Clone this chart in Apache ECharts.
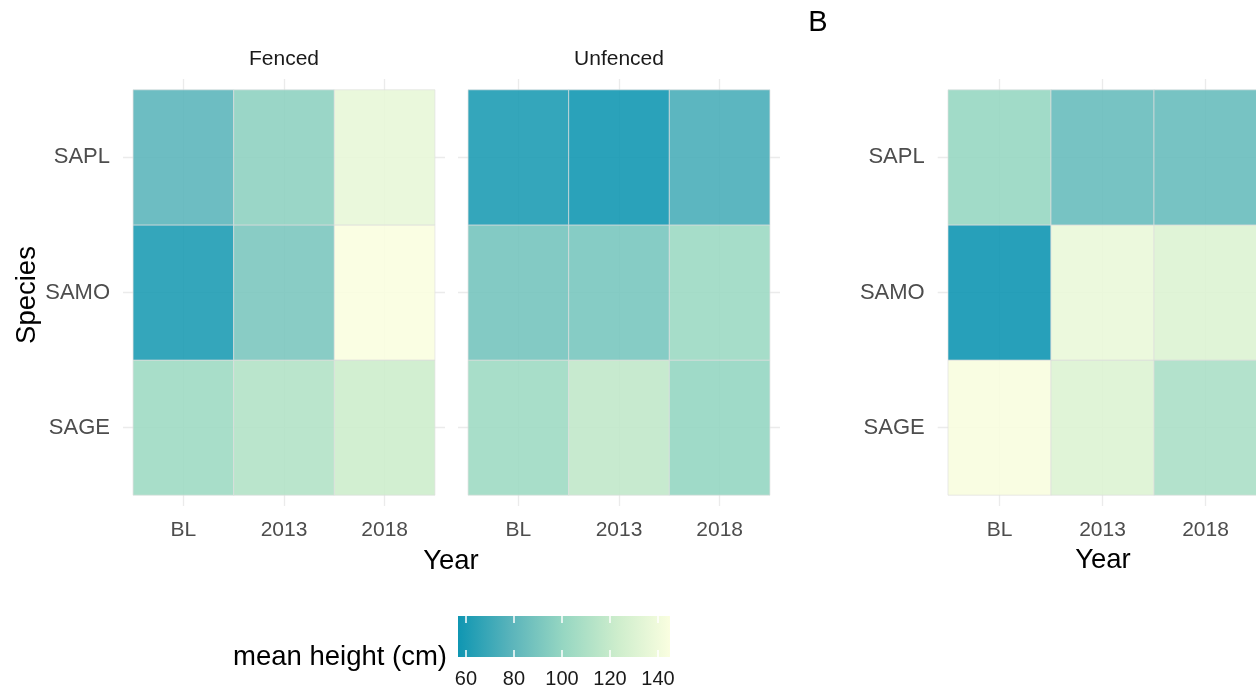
<!DOCTYPE html>
<html>
<head>
<meta charset="utf-8">
<script src="https://cdn.jsdelivr.net/npm/echarts@6/dist/echarts.min.js"></script>
<style>
html,body{margin:0;padding:0;background:#ffffff;}
#chart{width:1256px;height:694px;}
</style>
</head>
<body>
<div id="chart"></div>
<script>
// Categories
const years = ['BL', '2013', '2018'];
const species = ['SAGE', 'SAMO', 'SAPL']; // bottom to top

// Mean height (cm); rows follow `species`, columns follow `years`
const fenced = [
  [104, 112, 123],  // SAGE
  [61, 91, 145],    // SAMO
  [80, 98, 136]     // SAPL
];
const unfenced = [
  [104, 118, 100],
  [89, 90, 103],
  [61, 58, 74]
];
const panelB = [
  [144, 131, 109],
  [57, 137, 131],
  [101, 84, 84]
];

// Colour scale
const scaleMin = 56.7, scaleMax = 145;
const legendTicks = [60, 80, 100, 120, 140];
const palette = ['#0f96b2', '#5ab4bb', '#97d7c2', '#cdedcc', '#fafee0'];

function toCells(m) {
  const out = [];
  m.forEach((row, yi) => row.forEach((v, xi) => out.push([xi, yi, v])));
  return out;
}

const FONT = 'Liberation Sans, Arial, sans-serif';
const chart = echarts.init(document.getElementById('chart'), null, {renderer: 'canvas'});

// panel boxes (expanded plotting areas; tiles sit 0.1 unit inside horizontally)
const panels = [
  {box: {left: 123, width: 322}, labels: true},
  {box: {left: 458, width: 322}, labels: false},
  {box: {left: 937.7, width: 329.6}, labels: true}
];
const panelTop = 79, panelHeight = 427;
const matrices = [fenced, unfenced, panelB];

function renderCell(params, api) {
  const x = api.value(0), y = api.value(1);
  const p0 = api.coord([x - 0.5, y + 0.5]);
  const p1 = api.coord([x + 0.5, y - 0.5]);
  return {
    type: 'rect',
    shape: {x: p0[0], y: p0[1], width: p1[0] - p0[0], height: p1[1] - p0[1]},
    style: {fill: api.visual('color'), opacity: 0.9, stroke: 'rgba(222,222,222,0.75)', lineWidth: 1}
  };
}

function renderBar(params, api) {
  const p0 = api.coord([api.value(0), 1]);
  const p1 = api.coord([api.value(1), 0]);
  return {
    type: 'rect',
    shape: {x: p0[0], y: p0[1], width: p1[0] - p0[0], height: p1[1] - p0[1]},
    style: {
      fill: {
        type: 'linear', x: 0, y: 0, x2: 1, y2: 0,
        colorStops: palette.map((c, i) => ({offset: i / (palette.length - 1), color: c}))
      }
    }
  };
}

const grid = [], xAxis = [], yAxis = [], series = [];
panels.forEach((p, i) => {
  grid.push(Object.assign({top: panelTop, height: panelHeight, outerBoundsMode: 'none', containLabel: false}, p.box));
  xAxis.push({
    type: 'value', gridIndex: i, min: -0.6, max: 2.6,
    axisLine: {show: false},
    axisTick: {show: false, customValues: [0, 1, 2]},
    axisLabel: {customValues: [0, 1, 2], formatter: v => years[v], fontFamily: FONT, fontSize: 21, color: '#4d4d4d', margin: 14},
    splitLine: {show: true, lineStyle: {color: '#ebebeb', width: 1.3}}
  });
  yAxis.push({
    type: 'value', gridIndex: i, min: -0.58, max: 2.58,
    axisLine: {show: false},
    axisTick: {show: false, customValues: [0, 1, 2]},
    axisLabel: {show: p.labels, customValues: [0, 1, 2], formatter: v => species[v], fontFamily: FONT, fontSize: 22, color: '#4d4d4d', margin: 13},
    splitLine: {show: true, lineStyle: {color: '#ebebeb', width: 1.3}}
  });
  series.push({
    type: 'custom', xAxisIndex: i, yAxisIndex: i, renderItem: renderCell,
    encode: {x: 0, y: 1}, data: toCells(matrices[i])
  });
});

// colour bar
grid.push({left: 458, top: 616, width: 212, height: 41, outerBoundsMode: 'none'});
xAxis.push({
  type: 'value', gridIndex: 3, min: scaleMin, max: scaleMax, z: 10,
  axisLine: {show: false},
  axisTick: {show: true, inside: true, length: 7, customValues: legendTicks, lineStyle: {color: '#ffffff', width: 1.5}},
  axisLabel: {customValues: legendTicks, fontFamily: FONT, fontSize: 20, color: '#1a1a1a', margin: 12},
  splitLine: {show: false}
});
xAxis.push({
  type: 'value', gridIndex: 3, position: 'top', min: scaleMin, max: scaleMax, z: 10,
  axisLine: {show: false},
  axisTick: {show: true, inside: true, length: 7, customValues: legendTicks, lineStyle: {color: '#ffffff', width: 1.5}},
  axisLabel: {show: false},
  splitLine: {show: false}
});
yAxis.push({type: 'value', gridIndex: 3, min: 0, max: 1, show: false, splitLine: {show: false}});
series.push({
  type: 'custom', xAxisIndex: 3, yAxisIndex: 3, renderItem: renderBar,
  encode: {x: [0, 1]}, data: [[scaleMin, scaleMax]], silent: true
});

function txt(text, x, y, size, color, extra) {
  return Object.assign({
    type: 'text', x: x, y: y,
    style: {text: text, fontFamily: FONT, fontSize: size, fill: color, align: 'center', verticalAlign: 'middle'}
  }, extra || {});
}

const option = {
  backgroundColor: '#ffffff',
  animation: false,
  grid: grid,
  xAxis: xAxis,
  yAxis: yAxis,
  visualMap: {
    type: 'continuous', show: false, min: scaleMin, max: scaleMax, dimension: 2,
    seriesIndex: [0, 1, 2], inRange: {color: palette}
  },
  series: series,
  graphic: [
    txt('Fenced', 284, 59, 21, '#1a1a1a'),
    txt('Unfenced', 619, 59, 21, '#1a1a1a'),
    txt('B', 818, 23, 29, '#000000'),
    txt('Year', 451, 561, 27.5, '#000000'),
    txt('Year', 1103, 560, 27.5, '#000000'),
    txt('Species', 27, 295, 27.5, '#000000', {rotation: Math.PI / 2}),
    txt('mean height (cm)', 340, 657, 27.5, '#000000')
  ]
};
chart.setOption(option);
</script>
</body>
</html>
